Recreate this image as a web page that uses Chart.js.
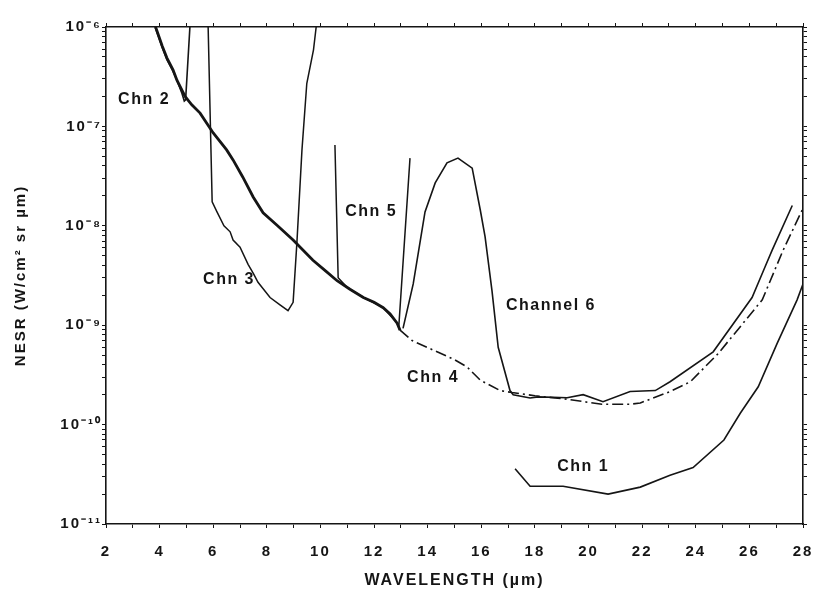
<!DOCTYPE html>
<html>
<head>
<meta charset="utf-8">
<script src="https://cdn.jsdelivr.net/npm/chart.js@4"></script>
<style>
  body { margin: 0; background: #fff; }
  #wrap { width: 813px; height: 606px; }
</style>
</head>
<body>
<div id="wrap"><canvas id="nesrChart" width="813" height="606"></canvas></div>
<script>
// channel curves (x = wavelength um, y = NESR)
const chn1X = [17.26, 17.82, 19.05, 20.73, 21.93, 23.04, 23.9, 25.05, 25.66, 26.33, 27.04, 27.78, 28.0];
const chn1Y = [3.6e-11, 2.4e-11, 2.4e-11, 2.0e-11, 2.35e-11, 3.1e-11, 3.7e-11, 7e-11, 1.3e-10, 2.4e-10, 6.6e-10, 1.8e-9, 2.6e-9];

const chn2X = [3.83, 4.1, 4.27, 4.5, 4.65, 4.82, 4.92, 4.97, 5.13];
const chn2Y = [1e-6, 6.2e-7, 4.7e-7, 3.6e-7, 2.9e-7, 2.2e-7, 1.8e-7, 1.85e-7, 1e-6];

const chn3X = [5.81, 5.96, 6.14, 6.4, 6.63, 6.74, 7.0, 7.3, 7.5, 7.67, 8.12, 8.49, 8.79, 8.98, 9.12, 9.31, 9.49, 9.74, 9.84];
const chn3Y = [1e-6, 1.74e-8, 1.38e-8, 1.0e-8, 8.7e-9, 7.2e-9, 6.1e-9, 4.1e-9, 3.3e-9, 2.7e-9, 1.9e-9, 1.6e-9, 1.4e-9, 1.7e-9, 6.7e-9, 5.8e-8, 2.7e-7, 5.9e-7, 1e-6];

const chn4X = [3.85, 4.1, 4.27, 4.5, 4.65, 4.95, 5.2, 5.51, 6.0, 6.5, 6.74, 7.1, 7.49, 7.86, 8.4, 8.98, 9.72, 10.2, 10.62, 11.1, 11.6, 12.0, 12.34, 12.6, 12.86, 12.97,
               13.42, 14.35, 15.0, 15.47, 15.96, 16.7, 17.15, 18.0, 19.2, 20.5, 21.55, 21.93, 23.04, 23.8, 24.84, 26.48, 27.26, 28.0];
const chn4Y = [1e-6, 6.4e-7, 4.9e-7, 3.7e-7, 2.9e-7, 2.0e-7, 1.65e-7, 1.36e-7, 8.6e-8, 5.8e-8, 4.6e-8, 3.1e-8, 1.95e-8, 1.35e-8, 1.0e-8, 7.2e-9, 4.5e-9, 3.5e-9, 2.8e-9, 2.3e-9, 1.9e-9, 1.7e-9, 1.5e-9, 1.3e-9, 1.05e-9, 8.9e-10,
               7e-10, 5.4e-10, 4.5e-10, 3.8e-10, 2.8e-10, 2.2e-10, 2.1e-10, 1.95e-10, 1.8e-10, 1.6e-10, 1.6e-10, 1.65e-10, 2.15e-10, 2.7e-10, 5.2e-10, 1.8e-9, 5.7e-9, 1.5e-8];
const chn4DashFrom = 12.97; // dash-dot part starts here

const chn5X = [10.54, 10.66, 11.0, 11.6, 12.34, 12.86, 12.92, 13.34];
const chn5Y = [6.5e-8, 3e-9, 2.4e-9, 1.9e-9, 1.5e-9, 1.05e-9, 9.5e-10, 4.8e-8];

const chn6X = [13.08, 13.46, 13.9, 14.28, 14.72, 15.13, 15.66, 15.96, 16.14, 16.4, 16.63, 17.07, 17.19, 17.82, 18.12, 19.2, 19.8, 20.54, 21.55, 22.49, 23.04, 24.65, 26.1, 26.59, 26.85, 27.6];
const chn6Y = [9.3e-10, 2.6e-9, 1.38e-8, 2.7e-8, 4.3e-8, 4.8e-8, 3.8e-8, 1.45e-8, 7.8e-9, 2.2e-9, 6e-10, 2.2e-10, 2.0e-10, 1.85e-10, 1.9e-10, 1.86e-10, 2.0e-10, 1.7e-10, 2.15e-10, 2.2e-10, 2.7e-10, 5.4e-10, 1.9e-9, 3.9e-9, 5.7e-9, 1.6e-8];

// curve labels, anchored in data units
const labelText = ['Chn 2', 'Chn 3', 'Chn 5', 'Channel 6', 'Chn 4', 'Chn 1'];
const labelX = [3.42, 6.59, 11.89, 18.6, 14.2, 19.8];
const labelY = [1.85e-7, 2.9e-9, 1.38e-8, 1.56e-9, 2.94e-10, 3.74e-11];

// axes
const xTickLabels = [2, 4, 6, 8, 10, 12, 14, 16, 18, 20, 22, 24, 26, 28];
const yDecades = [1e-11, 1e-10, 1e-9, 1e-8, 1e-7, 1e-6];
const yTickLabels = ['10\u207B\u00B9\u00B9', '10\u207B\u00B9\u2070', '10\u207B\u2079', '10\u207B\u2078', '10\u207B\u2077', '10\u207B\u2076'];

const INK = '#151515';
const toPts = (xs, ys) => xs.map((x, i) => ({ x: x, y: ys[i] }));

const logTicks = (scale) => {
  const ticks = [];
  yDecades.forEach((d, i) => {
    const last = i === yDecades.length - 1 ? 1 : 9;
    for (let m = 1; m <= last; m++) ticks.push({ value: d * m });
  });
  scale.ticks = ticks;
};

const yLabel = (v) => {
  const i = yDecades.findIndex(d => Math.abs(v / d - 1) < 1e-6);
  return i >= 0 ? yTickLabels[i] : '';
};

// keep the plot box fixed, ignore label overhang padding
const fixBox = (w, h) => (s) => {
  if (w !== null) s.width = w;
  if (h !== null) s.height = h;
  s.paddingLeft = 0; s.paddingRight = 0; s.paddingTop = 0; s.paddingBottom = 0;
};

const gridOpts = { display: true, drawOnChartArea: false, drawTicks: true, tickLength: 4, color: INK, lineWidth: 1 };
const borderOpts = { display: true, color: INK, width: 1.6 };

// text spacing for the whole canvas, plus the curve labels
const textPlugin = {
  id: 'textPlugin',
  beforeDraw(chart) {
    chart.ctx.letterSpacing = '2px';
  },
  afterDatasetsDraw(chart) {
    const { ctx, scales } = chart;
    ctx.save();
    ctx.letterSpacing = '1.5px';
    ctx.fillStyle = INK;
    ctx.font = 'bold 16px "Liberation Sans", Arial, sans-serif';
    ctx.textAlign = 'center';
    ctx.textBaseline = 'middle';
    labelText.forEach((t, i) => {
      ctx.fillText(t, scales.x.getPixelForValue(labelX[i]), scales.y.getPixelForValue(labelY[i]));
    });
    ctx.restore();
  }
};

Chart.defaults.font.family = '"Liberation Sans", Arial, sans-serif';
Chart.defaults.color = INK;

const mkSet = (label, xs, ys, width) => ({
  label: label,
  data: toPts(xs, ys),
  borderColor: INK,
  borderWidth: width,
  pointRadius: 0,
  tension: 0,
  fill: false
});

const chn4Set = mkSet('Chn 4', chn4X, chn4Y, 1.6);
chn4Set.segment = {
  borderDash: c => c.p0.parsed.x >= chn4DashFrom ? [11, 4, 2, 4] : undefined,
  borderWidth: c => c.p0.parsed.x >= chn4DashFrom ? 1.6 : 2.8
};

new Chart(document.getElementById('nesrChart'), {
  type: 'line',
  data: {
    datasets: [
      chn4Set,
      mkSet('Chn 1', chn1X, chn1Y, 1.6),
      mkSet('Chn 2', chn2X, chn2Y, 1.6),
      mkSet('Chn 3', chn3X, chn3Y, 1.5),
      mkSet('Chn 5', chn5X, chn5Y, 1.5),
      mkSet('Channel 6', chn6X, chn6Y, 1.6)
    ]
  },
  options: {
    responsive: false,
    animation: false,
    layout: { padding: 0 },
    plugins: { legend: { display: false }, tooltip: { enabled: false } },
    scales: {
      x: {
        type: 'linear', position: 'bottom', min: 2, max: 28,
        grid: gridOpts, border: borderOpts,
        ticks: {
          stepSize: 1, autoSkip: false, maxRotation: 0, padding: 15,
          font: { size: 15, weight: 'bold' },
          callback: v => xTickLabels.includes(v) ? String(v) : ''
        },
        title: { display: true, text: 'WAVELENGTH (\u00B5m)', font: { size: 16, weight: 'bold' }, padding: { top: 0, bottom: 16 } },
        afterFit: fixBox(null, 82)
      },
      x2: {
        type: 'linear', position: 'top', min: 2, max: 28,
        grid: gridOpts, border: borderOpts,
        ticks: { stepSize: 1, display: false },
        afterFit: fixBox(null, 27)
      },
      y: {
        type: 'logarithmic', position: 'left', min: 1e-11, max: 1e-6,
        grid: gridOpts, border: borderOpts,
        afterBuildTicks: logTicks,
        ticks: { autoSkip: false, padding: 0, font: { size: 15, weight: 'bold' }, callback: yLabel },
        title: { display: true, text: 'NESR (W/cm\u00B2 sr \u00B5m)', font: { size: 15, weight: 'bold' }, padding: { top: 12, bottom: 0 } },
        afterFit: fixBox(106, null)
      },
      y2: {
        type: 'logarithmic', position: 'right', min: 1e-11, max: 1e-6,
        grid: gridOpts, border: borderOpts,
        afterBuildTicks: logTicks,
        ticks: { display: false },
        afterFit: fixBox(10, null)
      }
    }
  },
  plugins: [textPlugin]
});
</script>
</body>
</html>
